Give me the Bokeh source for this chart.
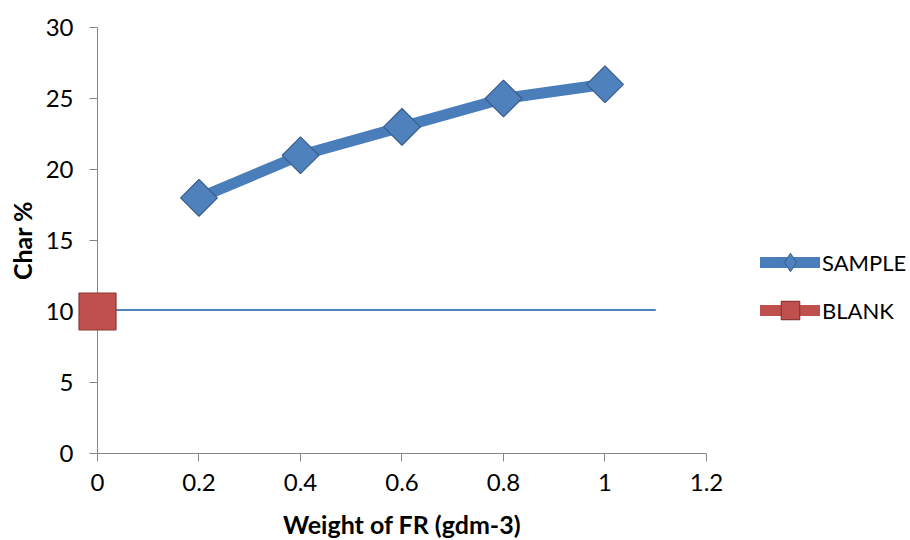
from bokeh.plotting import figure
from bokeh.models import Range1d, Legend, LegendItem, FixedTicker
from bokeh.core.properties import value
from bokeh.embed import file_html
from bokeh.resources import INLINE

# ---- data ----
sample_x = [0.2, 0.4, 0.6, 0.8, 1.0]
sample_y = [18, 21, 23, 25, 26]
blank_x = [0.0]
blank_y = [10]
blank_line_x = [0.0, 1.1]
blank_line_y = [10.1, 10.1]
x_ticks = [0, 0.2, 0.4, 0.6, 0.8, 1.0, 1.2]
x_tick_labels = ["0", "0.2", "0.4", "0.6", "0.8", "1", "1.2"]
y_ticks = [0, 5, 10, 15, 20, 25, 30]
x_title = "Weight of FR (gdm-3)"
y_title = "Char %"

FONT = "Lato"
BLUE = "#4A7EBB"
BLUE_FILL = "#4F81BD"
BLUE_EDGE = "#385D8A"
RED = "#C0504D"
RED_EDGE = "#8C3836"
AXIS = "#868686"

# frame spans to the right canvas edge so the legend is not clipped; axis bounded to 0..1.2
p = figure(width=910, height=540, output_backend="svg", toolbar_location=None,
           x_range=Range1d(0, 1.602), y_range=Range1d(0, 30),
           min_border_left=97, min_border_right=0, min_border_top=27, min_border_bottom=87)
p.outline_line_color = None
p.grid.visible = False
p.background_fill_color = "white"
p.border_fill_color = "white"

# thin reference line for blank
p.line(blank_line_x, blank_line_y, line_width=2, line_color=BLUE_FILL)

# sample series
s_line = p.line(sample_x, sample_y, line_width=11, line_color=BLUE, line_cap="round", line_join="round")
# diamond used for the legend key (hidden beneath the plotted markers)
s_key = p.scatter(sample_x, sample_y, marker="diamond", size=20,
                  fill_color=BLUE_FILL, line_color=BLUE_EDGE, line_width=1)
s_mark = p.scatter(sample_x, sample_y, marker="square", angle=0.785398, size=26,
                   fill_color=BLUE_FILL, line_color=BLUE_EDGE, line_width=1.2)

# blank series
b_line = p.line(blank_x, blank_y, line_width=11, line_color=RED, line_cap="round")
b_mark = p.scatter(blank_x, blank_y, marker="square", size=37,
                   fill_color=RED, line_color=RED_EDGE, line_width=1.2, level="overlay")

# axes
for ax in (p.xaxis[0], p.yaxis[0]):
    ax.axis_line_color = AXIS
    ax.major_tick_line_color = AXIS
    ax.minor_tick_line_color = None
    ax.major_tick_in = 0
    ax.major_tick_out = 8
    ax.major_label_text_font = FONT
    ax.major_label_text_font_size = "24px"
    ax.major_label_text_color = "black"
    ax.axis_label_text_font = FONT
    ax.axis_label_text_font_size = "25px"
    ax.axis_label_text_font_style = "bold"
    ax.axis_label_text_color = "black"

p.xaxis[0].ticker = FixedTicker(ticks=x_ticks)
p.xaxis[0].bounds = (x_ticks[0], x_ticks[-1])
p.xaxis[0].major_label_overrides = {t: l for t, l in zip(x_ticks, x_tick_labels)}
p.xaxis[0].major_label_standoff = 12

p.yaxis[0].ticker = FixedTicker(ticks=y_ticks)
p.yaxis[0].major_label_standoff = 16
p.yaxis[0].axis_label = y_title
p.yaxis[0].axis_label_standoff = 6

# x-axis title centred under the axis span, anchored to the axis and offset in pixels
p.text(x=[(x_ticks[0] + x_ticks[-1]) / 2], y=[y_ticks[0]], text=[x_title],
       y_offset=70, text_align="center", text_baseline="alphabetic",
       text_font=value(FONT), text_font_size="25px", text_font_style="bold",
       text_color="black", level="overlay")

legend = Legend(items=[LegendItem(label="SAMPLE", renderers=[s_line, s_key]),
                       LegendItem(label="BLANK", renderers=[b_line, b_mark])],
                location=(663, 120), orientation="vertical",
                glyph_width=60, glyph_height=46, label_standoff=2, spacing=2,
                padding=0, margin=0, border_line_color=None, background_fill_alpha=0,
                label_text_font=FONT, label_text_font_size="22px", label_text_color="black")
p.add_layout(legend, "center")

open("out.html", "w").write(file_html(p, INLINE))
